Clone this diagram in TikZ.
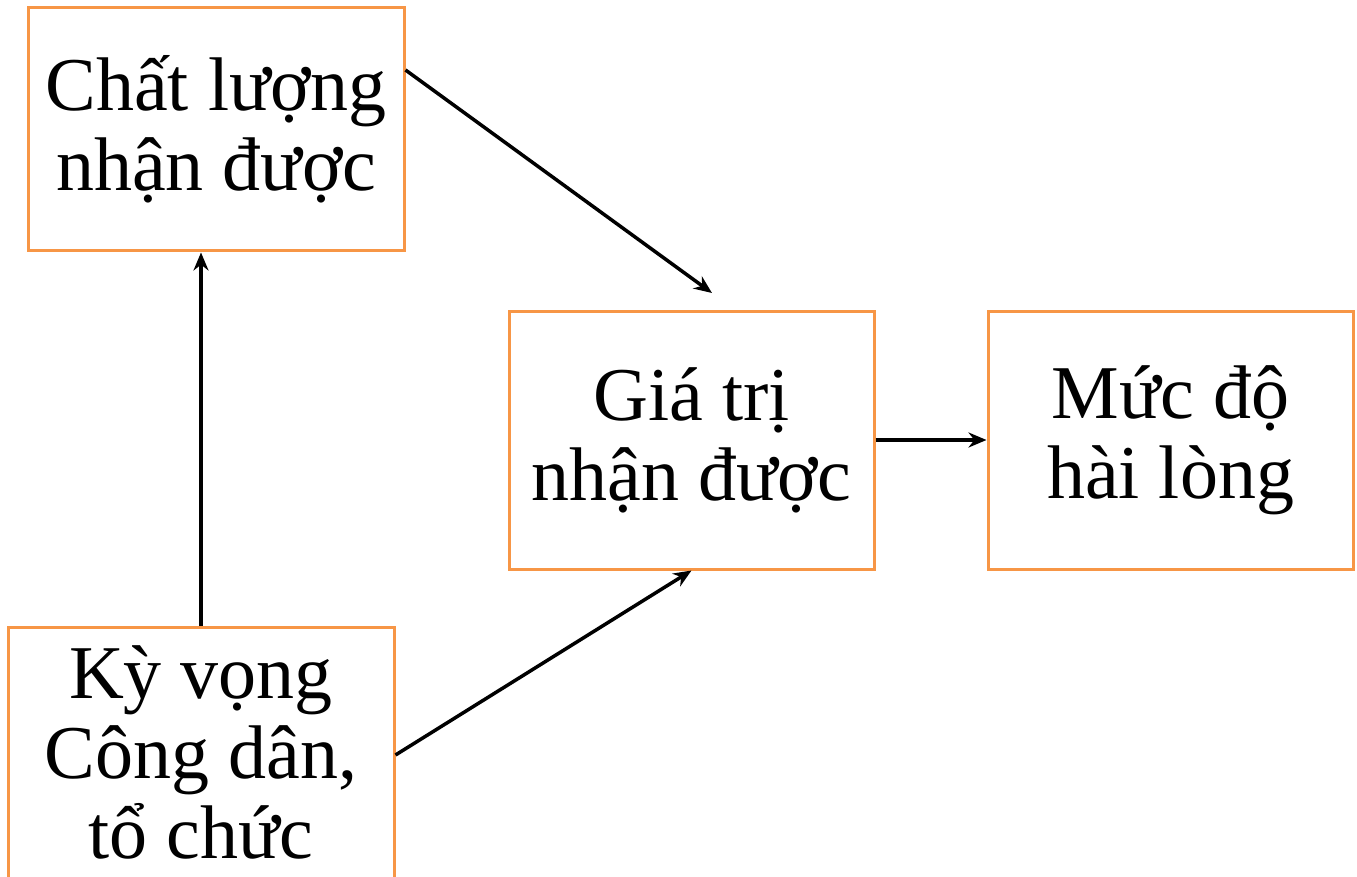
\documentclass[tikz,border=0pt]{standalone}
\usepackage{fontspec}
\setmainfont{Liberation Serif}
\usetikzlibrary{arrows.meta}
\definecolor{boxorange}{HTML}{F79646}
\tikzset{
  box/.style={draw=boxorange, line width=3pt, align=center, inner sep=0pt,
    font=\fontsize{76}{80}\selectfont},
  label text/.style={align=center, inner sep=0pt, font=\fontsize{76}{80}\selectfont},
  conn/.style={draw=black, line width=3.5pt, -{Stealth[length=18pt,width=15pt]}}
}
\begin{document}
\begin{tikzpicture}[x=1pt,y=-1pt]
\useasboundingbox (0,0) rectangle (1357,877);
\begin{scope}
\clip (0,0) rectangle (1357,877);
\node[box, minimum width=376pt, minimum height=243pt] (chat) at (216,129.5) {Chất lượng\\nhận được};
\node[box, minimum width=365pt, minimum height=258pt] (gia) at (691.5,440) {Giá trị\\nhận được};
\node[box, minimum width=365pt, minimum height=258pt] (muc) at (1170.5,440) {Mức độ\\hài lòng};
\node[box, minimum width=386pt, minimum height=290pt] (ky) at (201,772) {};
\node[label text] (kytext) at (201,752) {Kỳ vọng\\Công dân,\\tổ chức};
\end{scope}
\coordinate (tip) at (712,293);
\draw[conn] (chat.east |- 0,70) -- (tip);
\draw[conn] (ky.east |- 0,755) -- (gia.south);
\draw[conn] (ky.north) -- (ky.north |- chat.south);
\draw[conn] (gia.east) -- (muc.west);
\end{tikzpicture}
\end{document}
